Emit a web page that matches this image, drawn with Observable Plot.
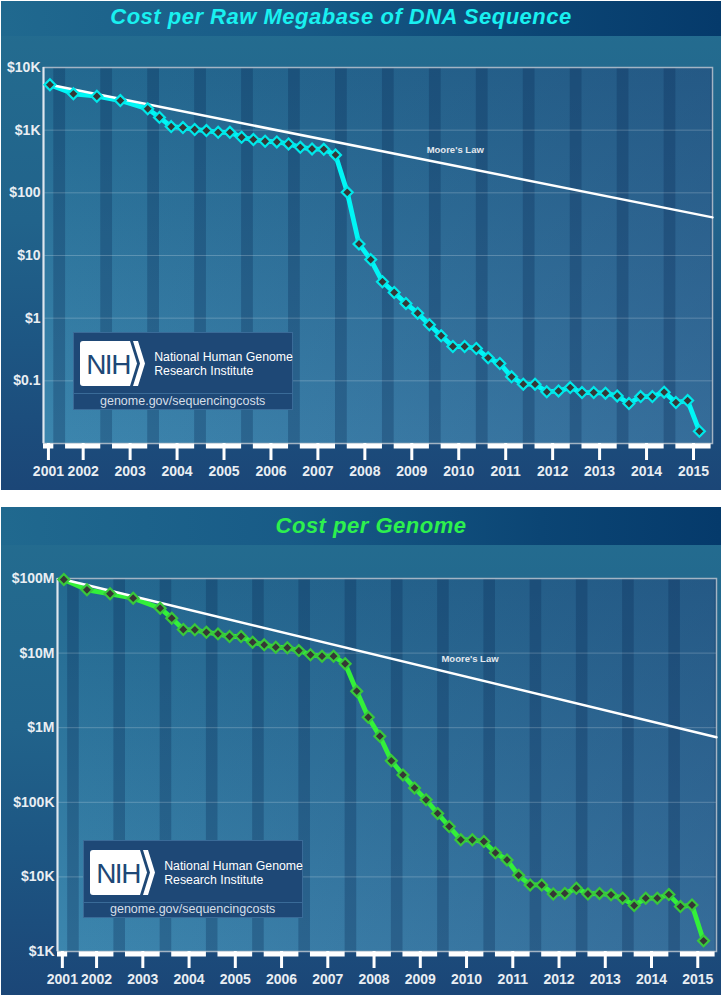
<!DOCTYPE html>
<html>
<head>
<meta charset="utf-8">
<script src="https://cdn.jsdelivr.net/npm/d3@7"></script>
<script src="https://cdn.jsdelivr.net/npm/@observablehq/plot@0.6"></script>
<style>
html,body{margin:0;padding:0;background:#fff;}
body{width:722px;height:996px;position:relative;overflow:hidden;font-family:"Liberation Sans",Arial,sans-serif;}
.panel{position:absolute;left:1px;width:720px;overflow:hidden;
  background:linear-gradient(180deg,#246d90 0%,#21638b 45%,#1d5683 70%,#1b4677 100%);}
.band{position:absolute;left:0;top:0;width:100%;
  background:linear-gradient(90deg,#20698f 0%,#185b87 40%,#0b4574 75%,#053a6b 100%);}
.title{position:absolute;font-weight:bold;font-style:italic;font-size:22px;line-height:22px;white-space:nowrap;transform:translateX(-50%);letter-spacing:0.5px;}
.chart{position:absolute;left:0;}
.chart svg{display:block;}
.nih{position:absolute;width:220px;height:78px;background:#1e4876;border:1px solid #3a6b98;box-sizing:border-box;}
.nih svg{position:absolute;left:6.5px;top:8.5px;}
.nih .t1{position:absolute;left:80.5px;top:17.5px;color:#ffffff;font-size:12.3px;line-height:14px;white-space:nowrap;}
.nih .sep{position:absolute;left:0;right:0;top:60.6px;height:1px;background:#3a6b98;}
.nih .url{position:absolute;left:0;right:0;top:61px;text-align:center;color:#d6dfe8;font-size:12.5px;line-height:14px;}
</style>
</head>
<body>
<div class="panel" id="p1" style="top:1px;height:489px">
  <div class="band" style="height:35px"></div>
  <div class="title" style="left:340px;top:5.4px;color:#19f0f0">Cost per Raw Megabase of DNA Sequence</div>
  <div class="chart" id="c1" style="top:35px"></div>
  <div class="nih" style="left:71.7px;top:330.7px">
    <svg width="68" height="46" viewBox="0 0 68 46"><path d="M3,0H50L57,22.5L50,45H3Q0,45 0,42V3Q0,0 3,0Z" fill="#fff"/><path d="M53,0H58L65,22.5L58,45H53L60,22.5Z" fill="#fff"/><text x="28" y="33" text-anchor="middle" font-family="Liberation Sans, Arial, sans-serif" font-size="28" letter-spacing="-1.5" fill="#1e4876">NIH</text></svg>
    <div class="t1">National Human Genome<br>Research Institute</div>
    <div class="sep"></div>
    <div class="url">genome.gov/sequencingcosts</div>
  </div>
</div>
<div class="panel" id="p2" style="top:507px;height:488px">
  <div class="band" style="height:38px"></div>
  <div class="title" style="left:370px;top:8.4px;color:#2df04e">Cost per Genome</div>
  <div class="chart" id="c2" style="top:38px"></div>
  <div class="nih" style="left:81.7px;top:333px">
    <svg width="68" height="46" viewBox="0 0 68 46"><path d="M3,0H50L57,22.5L50,45H3Q0,45 0,42V3Q0,0 3,0Z" fill="#fff"/><path d="M53,0H58L65,22.5L58,45H53L60,22.5Z" fill="#fff"/><text x="28" y="33" text-anchor="middle" font-family="Liberation Sans, Arial, sans-serif" font-size="28" letter-spacing="-1.5" fill="#1e4876">NIH</text></svg>
    <div class="t1">National Human Genome<br>Research Institute</div>
    <div class="sep"></div>
    <div class="url">genome.gov/sequencingcosts</div>
  </div>
</div>
<script>
// ---------- data ----------
const dates = ["2001-09","2002-03","2002-09","2003-03","2003-10",
  "2004-01","2004-04","2004-07","2004-10","2005-01","2005-04","2005-07","2005-10",
  "2006-01","2006-04","2006-07","2006-10","2007-01","2007-04","2007-07","2007-10",
  "2008-01","2008-04","2008-07","2008-10","2009-01","2009-04","2009-07","2009-10",
  "2010-01","2010-04","2010-07","2010-10","2011-01","2011-04","2011-07","2011-10",
  "2012-01","2012-04","2012-07","2012-10","2013-01","2013-04","2013-07","2013-10",
  "2014-01","2014-04","2014-07","2014-10","2015-01","2015-04","2015-07"];
const mbCost = [5300,3800,3480,2970,2190,
  1600,1140,1100,1025,985,925,925,770,
  708,665,650,604,533,502,495,403,
  102,15.3,8.6,3.81,2.57,1.72,1.20,0.785,
  0.524,0.353,0.353,0.328,0.233,0.189,0.116,0.0885,
  0.0885,0.0667,0.069,0.078,0.065,0.065,0.0635,0.0575,
  0.0434,0.056,0.056,0.066,0.045,0.0484,0.0157];
const genomeCost = [9.7e7,7.05e7,6.24e7,5.45e7,4.0e7,
  2.94e7,2.07e7,2.05e7,1.9e7,1.81e7,1.67e7,1.67e7,1.40e7,
  1.29e7,1.20e7,1.18e7,1.08e7,9.5e6,9.1e6,9.1e6,7.2e6,
  3.09e6,1.38e6,7.7e5,3.6e5,2.33e5,1.56e5,1.08e5,7.1e4,
  4.74e4,3.14e4,3.14e4,2.98e4,2.1e4,1.69e4,1.05e4,7.8e3,
  7.8e3,5.9e3,6.0e3,7.05e3,5.9e3,6.0e3,5.75e3,5.18e3,
  4.14e3,5.18e3,5.18e3,5.8e3,4.0e3,4.2e3,1.39e3];
const years = [2001,2002,2003,2004,2005,2006,2007,2008,2009,2010,2011,2012,2013,2014,2015];
const xTickPos = [2001.635,2002.375,2003.375,2004.375,2005.375,2006.375,2007.375,2008.375,
  2009.375,2010.375,2011.375,2012.375,2013.375,2014.375,2015.375];
const xTickLabels = ["2001","2002","2003","2004","2005","2006","2007","2008",
  "2009","2010","2011","2012","2013","2014","2015"];
const mbTicks = [10000,1000,100,10,1,0.1];
const mbTickLabels = ["$10K","$1K","$100","$10","$1","$0.1"];
const genomeTicks = [1e8,1e7,1e6,1e5,1e4,1e3];
const genomeTickLabels = ["$100M","$10M","$1M","$100K","$10K","$1K"];
const mooreYears = [2001.667, 2015.78];
const mooreMb = [5300, 40.6];
const mooreGenome = [9.7e7, 7.46e5];
const xDomain = [2001.53, 2015.78];

// ---------- helpers ----------
const toYear = s => +s.slice(0,4) + (+s.slice(5,7) - 1) / 12;

function hasFont(name) {
  const c = document.createElement("canvas").getContext("2d");
  c.font = "20px monospace";
  const a = c.measureText("2001 abcWm").width;
  c.font = `20px "${name}", monospace`;
  const b = c.measureText("2001 abcWm").width;
  return Math.abs(a - b) > 0.5;
}
const narrowOK = hasFont("Liberation Sans Narrow");
const xFont = narrowOK ? "'Liberation Sans Narrow', 'Liberation Sans', Arial, sans-serif" : "'Liberation Sans', Arial, sans-serif";
const xFontSize = narrowOK ? 16 : 14;

function bgMark(id) {
  return (index, scales, values, dims) => {
    const {width, height, marginTop, marginRight, marginBottom, marginLeft} = dims;
    const x = marginLeft, y = marginTop;
    const w = width - marginLeft - marginRight, h = height - marginTop - marginBottom;
    const g = d3.create("svg:g");
    const defs = g.append("defs");
    const v = defs.append("linearGradient").attr("id", id + "v")
      .attr("x1", 0).attr("y1", 0).attr("x2", 0).attr("y2", 1);
    v.append("stop").attr("offset", "0%").attr("stop-color", "#236990");
    v.append("stop").attr("offset", "100%").attr("stop-color", "#3c86ae");
    const hz = defs.append("linearGradient").attr("id", id + "h")
      .attr("x1", 0).attr("y1", 0).attr("x2", 1).attr("y2", 0);
    hz.append("stop").attr("offset", "0%").attr("stop-color", "#28376e").attr("stop-opacity", 0);
    hz.append("stop").attr("offset", "100%").attr("stop-color", "#28376e").attr("stop-opacity", 0.32);
    g.append("rect").attr("x", x).attr("y", y).attr("width", w).attr("height", h).attr("fill", `url(#${id}v)`);
    g.append("rect").attr("x", x).attr("y", y).attr("width", w).attr("height", h).attr("fill", `url(#${id}h)`);
    return g.node();
  };
}

function makeChart(cfg) {
  const data = dates.map((d, i) => ({t: toYear(d), v: cfg.values[i]}));
  const mooreData = mooreYears.map((t, i) => ({t, v: cfg.moore[i]}));
  const mooreAt = t => {
    const f = (t - mooreYears[0]) / (mooreYears[1] - mooreYears[0]);
    return Math.exp(Math.log(cfg.moore[0]) + f * (Math.log(cfg.moore[1]) - Math.log(cfg.moore[0])));
  };
  const yLabel = new Map(cfg.yTicks.map((d, i) => [d, cfg.yTickLabels[i]]));
  const xLabel = new Map(xTickPos.map((d, i) => [d, xTickLabels[i]]));
  const stripes = years.map(y => ({x1: y + 0.75, x2: Math.min(y + 1, xDomain[1])})).filter(d => d.x1 < xDomain[1]);
  const bars = years.map(y => ({x1: Math.max(y, xDomain[0]), x2: Math.min(y + 0.75, xDomain[1])})).filter(d => d.x2 > d.x1);
  return Plot.plot({
    width: 720, height: cfg.height,
    marginTop: cfg.mt, marginBottom: cfg.mb, marginLeft: cfg.ml, marginRight: cfg.mr,
    x: {type: "linear", domain: xDomain},
    y: {type: "log", domain: cfg.yDomain},
    style: {background: "transparent", overflow: "visible", fontFamily: "'Liberation Sans', Arial, sans-serif"},
    marks: [
      bgMark(cfg.id),
      Plot.rect(stripes, {x1: "x1", x2: "x2", fill: "#0b2b57", fillOpacity: 0.3}),
      Plot.gridY({ticks: cfg.yTicks.slice(1), stroke: "#ffffff", strokeOpacity: 0.22, strokeWidth: 1}),
      Plot.frame({stroke: "#a3b4c4", strokeWidth: 1.5}),
      Plot.ruleX([xDomain[0]], {stroke: "#dfe7ef", strokeWidth: 2}),
      Plot.ruleY(bars, {x1: "x1", x2: "x2", y: () => cfg.yDomain[0], stroke: "#ffffff", strokeWidth: 5, dy: 2.5}),
      Plot.axisY({ticks: cfg.yTicks, tickFormat: d => yLabel.get(d), tickSize: 0, tickPadding: 3,
        fontSize: 14, fontWeight: "bold", fill: "#e9eef3", label: null}),
      Plot.axisX({ticks: xTickPos, tickFormat: d => xLabel.get(d), tickSize: 17, tickPadding: 6,
        stroke: "#ffffff", strokeWidth: 3, fontSize: xFontSize, fontWeight: "bold", fontFamily: xFont,
        fill: "#e9eef3", label: null}),
      Plot.line(data, {x: "t", y: "v", stroke: cfg.color, strokeWidth: 4.8}),
      Plot.line(mooreData, {x: "t", y: "v", stroke: "#ffffff", strokeWidth: 2.5}),
      Plot.text([cfg.labelYear], {x: d => d, y: d => mooreAt(d), text: () => "Moore's Law",
        dy: cfg.labelDy, fill: "#e3e8ee", fontSize: 9.5, fontWeight: "bold"}),
      Plot.dot(data, {x: "t", y: "v", symbol: "diamond2", r: 4.9, fill: "#363636",
        stroke: cfg.dotStroke, strokeWidth: 2.2})
    ]
  });
}

document.getElementById("c1").append(makeChart({
  id: "g1", values: mbCost, moore: mooreMb, yDomain: [0.01, 10000],
  yTicks: mbTicks, yTickLabels: mbTickLabels, height: 454,
  mt: 31, mb: 47, ml: 42, mr: 9, color: "#00f6f6", dotStroke: "#00e8ea",
  labelYear: 2010.3, labelDy: -16
}));
document.getElementById("c2").append(makeChart({
  id: "g2", values: genomeCost, moore: mooreGenome, yDomain: [1000, 1e8],
  yTicks: genomeTicks, yTickLabels: genomeTickLabels, height: 450,
  mt: 33, mb: 44, ml: 56, mr: 5, color: "#33f03a", dotStroke: "#39c83b",
  labelYear: 2010.45, labelDy: -19
}));
</script>
</body>
</html>
